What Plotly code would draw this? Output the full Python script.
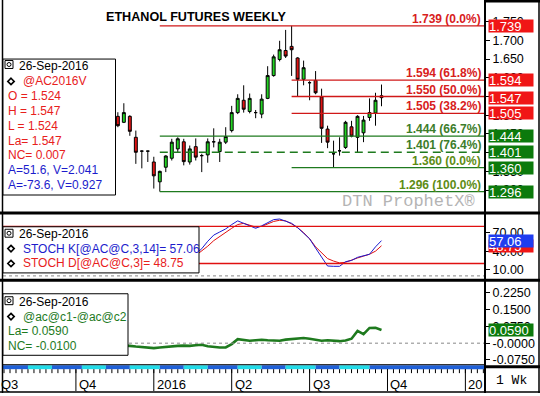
import plotly.graph_objects as go
import pandas as pd

W, H = 540, 396

# ---------------- data ----------------
dates = pd.date_range(end="2016-09-26", periods=45, freq="7D")
opens = [1.497, 1.481, 1.497, 1.441, 1.404, 1.404, 1.375, 1.322, 1.361, 1.385,
         1.410, 1.429, 1.375, 1.416, 1.392, 1.394, 1.429, 1.403, 1.428, 1.459,
         1.507, 1.540, 1.510, 1.507, 1.503, 1.545, 1.606, 1.649, 1.673, 1.684,
         1.653, 1.596, 1.587, 1.593, 1.549, 1.463, 1.397, 1.405, 1.414, 1.469,
         1.441, 1.453, 1.494, 1.506, 1.552]
highs = [1.508, 1.532, 1.500, 1.459, 1.406, 1.405, 1.389, 1.352, 1.393, 1.437,
         1.441, 1.437, 1.419, 1.438, 1.397, 1.438, 1.465, 1.437, 1.468, 1.525,
         1.556, 1.580, 1.558, 1.514, 1.556, 1.631, 1.662, 1.699, 1.728, 1.739,
         1.655, 1.646, 1.591, 1.618, 1.571, 1.472, 1.432, 1.441, 1.485, 1.485,
         1.500, 1.498, 1.545, 1.560, 1.582]
lows = [1.468, 1.479, 1.445, 1.370, 1.358, 1.375, 1.304, 1.296, 1.348, 1.379,
        1.401, 1.366, 1.368, 1.379, 1.348, 1.373, 1.414, 1.375, 1.423, 1.454,
        1.503, 1.507, 1.505, 1.492, 1.492, 1.543, 1.603, 1.644, 1.653, 1.605,
        1.551, 1.580, 1.540, 1.556, 1.426, 1.412, 1.360, 1.392, 1.410, 1.441,
        1.401, 1.428, 1.485, 1.472, 1.524]
closes = [1.472, 1.507, 1.457, 1.401, 1.404, 1.404, 1.338, 1.350, 1.391, 1.428,
          1.437, 1.376, 1.410, 1.388, 1.392, 1.429, 1.429, 1.428, 1.443, 1.507,
          1.545, 1.516, 1.545, 1.507, 1.543, 1.606, 1.656, 1.675, 1.658, 1.675,
          1.596, 1.627, 1.587, 1.560, 1.465, 1.428, 1.397, 1.405, 1.481, 1.444,
          1.497, 1.487, 1.507, 1.540, 1.547]

stoch_dates = dates[13:]
stoch_k = [35, 44, 56, 66, 71, 76, 83, 89, 85, 81, 77, 81, 86, 91, 92, 88,
           85, 78, 69, 60, 45, 30, 16, 15.5, 15.5, 23, 25, 30, 33, 35, 47, 57.06]
stoch_d = [33, 40, 48, 57, 64, 71, 77, 83, 85, 82, 79, 80, 84, 88, 90, 89,
           84, 78, 70, 60, 47, 37, 28, 24, 21, 22, 26, 29, 32, 35, 40, 48.75]

spread = [-0.010, -0.010, -0.012, -0.015, -0.018, -0.021, -0.022, -0.019, -0.016, -0.014,
          -0.012, -0.011, -0.012, -0.009, -0.007, -0.014, -0.017, -0.019, -0.019, -0.004,
          0.018, 0.013, 0.011, 0.013, 0.015, 0.013, 0.012, 0.011, 0.016, 0.019,
          0.021, 0.023, 0.020, 0.015, 0.011, 0.013, 0.010, 0.009, 0.012, 0.020,
          0.055, 0.040, 0.068, 0.069, 0.059]

fib_levels = [1.739, 1.594, 1.550, 1.505, 1.444, 1.401, 1.360, 1.296]
fib_labels = ["1.739 (0.0%)", "1.594 (61.8%)", "1.550 (50.0%)", "1.505 (38.2%)",
              "1.444 (66.7%)", "1.401 (76.4%)", "1.360 (0.0%)", "1.296 (100.0%)"]
fib_start = [7, 29, 29, 29, 7, 7, 29, 7]          # index of anchoring bar
fib_is_red = [True, True, True, True, False, False, False, False]

price_boxes = [1.739, 1.594, 1.547, 1.505, 1.444, 1.401, 1.360, 1.296]
price_box_red = [True, True, True, True, False, False, False, False]

price_ticks = [1.30, 1.35, 1.40, 1.45, 1.50, 1.55, 1.60, 1.65, 1.70, 1.75]
stoch_ticks = [10, 40, 70]
spread_ticks = [-0.075, 0.0, 0.075, 0.15, 0.225]
spread_ticktext = ["-0.0750", "-0.0000", "0.0750", "0.1500", "0.2250"]

quarter_dates = pd.to_datetime(["2015-07-06", "2015-10-05", "2016-01-04", "2016-04-04",
                                "2016-07-04", "2016-10-03", "2017-01-02"])
quarter_labels = ["Q3", "Q4", "2016", "Q2", "Q3", "Q4", "20"]

# ---------------- geometry helpers ----------------
FONT = "Liberation Sans, Arial, sans-serif"
RED = "#e8201c"
BLUE = "#1c1ccc"
GREEN = "#1e7a1e"

px_per_day = 0.856
anchor_px = 381.5


def date_px(d):
    return anchor_px + (pd.Timestamp(d) - dates[-1]).total_seconds() / 86400 * px_per_day


def date_at(px):
    return dates[-1] + pd.Timedelta(days=(px - anchor_px) / px_per_day)


x_left, x_right = date_at(3), date_at(485)


def PX(x):
    return x / W


def PY(y):
    return 1 - y / H


shapes = []
annotations = []


def hline_px(x0, x1, y, color="black", width=1, dash="solid", layer="above"):
    shapes.append(dict(type="line", xref="paper", yref="paper", x0=PX(x0), x1=PX(x1),
                       y0=PY(y), y1=PY(y), line=dict(color=color, width=width, dash=dash),
                       layer=layer))


def vline_px(x, y0, y1, color="black", width=1):
    shapes.append(dict(type="line", xref="paper", yref="paper", x0=PX(x), x1=PX(x),
                       y0=PY(y0), y1=PY(y1), line=dict(color=color, width=width), layer="above"))


def rect_px(x0, y0, x1, y1, fill="white", line="black", lw=1):
    shapes.append(dict(type="rect", xref="paper", yref="paper", x0=PX(x0), x1=PX(x1),
                       y0=PY(y1), y1=PY(y0), fillcolor=fill,
                       line=dict(color=line, width=lw), layer="above"))


def text_px(x, y, t, color="black", size=12, xanchor="left", family=FONT):
    annotations.append(dict(xref="paper", yref="paper", x=PX(x), y=PY(y), text=t,
                            showarrow=False, xanchor=xanchor, yanchor="middle",
                            font=dict(family=family, size=size, color=color),
                            borderpad=0))


def diamond(cx, cy, r=3.2):
    pts = [(cx, cy - r), (cx + r, cy), (cx, cy + r), (cx - r, cy)]
    path = "M " + " L ".join(f"{PX(a)},{PY(b)}" for a, b in pts) + " Z"
    shapes.append(dict(type="path", xref="paper", yref="paper", path=path,
                       line=dict(color="black", width=1.6), fillcolor="white", layer="above"))


def icon(x, y):
    rect_px(x, y, x + 8, y + 8, fill="white", line="black", lw=1)
    shapes.append(dict(type="circle", xref="paper", yref="paper", x0=PX(x + 2), x1=PX(x + 6),
                       y0=PY(y + 6), y1=PY(y + 2), line=dict(color="black", width=1), layer="above"))


# ---------------- traces ----------------
fig = go.Figure()
fig.add_trace(go.Candlestick(
    x=dates, open=opens, high=highs, low=lows, close=closes,
    increasing=dict(line=dict(color="black", width=1), fillcolor="#22d422"),
    decreasing=dict(line=dict(color="black", width=1), fillcolor="#e01414"),
    whiskerwidth=0, xaxis="x", yaxis="y", hoverinfo="skip"))

fig.add_trace(go.Scatter(x=stoch_dates, y=stoch_d, mode="lines",
                         line=dict(color="#e01010", width=1), xaxis="x", yaxis="y2"))
fig.add_trace(go.Scatter(x=stoch_dates, y=stoch_k, mode="lines",
                         line=dict(color="#1a1ad0", width=1), xaxis="x", yaxis="y2"))
fig.add_trace(go.Scatter(x=dates, y=spread, mode="lines",
                         line=dict(color="#1e7a1e", width=2.6), xaxis="x", yaxis="y3"))

# ---------------- fib lines ----------------
for lvl, lab, si, red in zip(fib_levels, fib_labels, fib_start, fib_is_red):
    col = "#d01818" if red else "#1e7a1e"
    shapes.append(dict(type="line", xref="x", yref="y", x0=dates[si], x1=x_right,
                       y0=lvl, y1=lvl, layer="above",
                       line=dict(color=col, width=1.3,
                                 dash="8px,5px" if lab.startswith("1.401") else "solid")))
    tcol = "#d8201c" if red else ("#3c7d2a" if lvl > 1.38 else "#5d8c14")
    annotations.append(dict(xref="paper", yref="y", x=PX(483), y=lvl, yshift=7,
                            text=f"<b>{lab}</b>", showarrow=False, xanchor="right",
                            yanchor="middle", font=dict(family=FONT, size=12, color=tcol)))

# stoch bands and zero lines
for v in (80, 20):
    shapes.append(dict(type="line", xref="paper", yref="y2", x0=PX(3), x1=PX(485), y0=v, y1=v,
                       line=dict(color="#e01010", width=1.3), layer="above"))
shapes.append(dict(type="line", xref="paper", yref="y2", x0=PX(3), x1=PX(485), y0=0, y1=0,
                   line=dict(color="#888888", width=1, dash="3px,3px"), layer="above"))
shapes.append(dict(type="line", xref="paper", yref="y3", x0=PX(3), x1=PX(485), y0=0, y1=0,
                   line=dict(color="#888888", width=1, dash="3px,3px"), layer="above"))

# ---------------- month band + time ticks ----------------
bounds = []
for m in pd.date_range("2015-08-01", "2016-09-01", freq="MS"):
    s = pd.Timestamp(m.year, m.month, 6)
    bounds.append(s + pd.Timedelta(days=(0 - s.weekday()) % 7))
edges = [x_left] + bounds + [x_right]
for k in range(len(edges) - 1):
    col = "#1f60d8" if k % 2 == 0 else "#22dbe8"
    shapes.append(dict(type="rect", xref="x", yref="paper", x0=edges[k], x1=edges[k + 1],
                       y0=PY(372), y1=PY(368), fillcolor=col, line=dict(width=0), layer="above"))

mondays = pd.date_range(x_left.normalize(), x_right, freq="W-MON")
for d in mondays:
    shapes.append(dict(type="line", xref="x", yref="paper", x0=d, x1=d, y0=PY(372), y1=PY(376),
                       line=dict(color="black", width=1), layer="above"))
for d, lab in zip(quarter_dates, quarter_labels):
    xp = date_px(d)
    if 3 <= xp <= 485:
        shapes.append(dict(type="line", xref="x", yref="paper", x0=d, x1=d, y0=PY(372),
                           y1=PY(394), line=dict(color="black", width=1), layer="above"))
    text_px(xp + 2, 387, lab, size=13)

# ---------------- frame / separators ----------------
hline_px(0, 540, 214.5, width=3)
hline_px(0, 540, 282.5, width=3)
hline_px(3, 485, 367.5, width=1)
hline_px(485, 540, 369.5, width=3)
vline_px(485, 0, 396, width=2)
vline_px(2.5, 0, 396, width=1.5)
hline_px(485, 540, 1, width=3)
hline_px(0, 540, 395, width=1.5)
vline_px(539, 0, 396, width=1.5)

# ---------------- title / watermark ----------------
text_px(196, 17, "<b>ETHANOL FUTURES WEEKLY</b>", size=12.6, xanchor="center")
text_px(408, 203, "DTN ProphetX®", color="#b4b4b4", size=17, xanchor="center",
        family="Liberation Mono, Courier New, monospace")
text_px(511, 383, "1 Wk", size=13, xanchor="center", family="Liberation Mono, Courier New, monospace")

# ---------------- info boxes ----------------
rect_px(3, 59.5, 115.5, 196.5)
icon(5, 61)
text_px(18, 67, "26-Sep-2016")
diamond(11, 82)
text_px(22, 82, "@AC2016V", RED)
main_lines = [("O = 1.524", RED), ("H = 1.547", RED), ("L = 1.524", RED), ("La= 1.547", RED),
              ("NC= 0.007", RED), ("A=51.6, V=2.041", BLUE), ("A=-73.6, V=0.927", BLUE)]
for k, (t, c) in enumerate(main_lines):
    text_px(7, 97 + k * 14.9, t, c)

rect_px(3, 228.5, 199, 275)
icon(5, 231)
text_px(18, 235.5, "26-Sep-2016")
diamond(11, 250.5)
text_px(22, 250.5, "STOCH K[@AC@C,3,14]= 57.06", BLUE)
diamond(11, 265.5)
text_px(22, 265.5, "STOCH D[@AC@C,3]= 48.75", RED)

rect_px(3, 296, 128, 358)
icon(5, 299)
text_px(18, 304, "26-Sep-2016")
diamond(11, 319)
text_px(22, 319, "@ac@c1-@ac@c2", GREEN)
text_px(7, 333.5, "La= 0.0590", GREEN)
text_px(7, 348.5, "NC= -0.0100", GREEN)

# ---------------- value boxes on the right axis ----------------
def value_box(yref, v, t, bg):
    annotations.append(dict(xref="paper", yref=yref, x=PX(487.5), y=v, text=t, showarrow=False,
                            xanchor="left", yanchor="middle", bgcolor=bg, width=44, height=12,
                            align="left", borderpad=0,
                            font=dict(family=FONT, size=13, color="white")))


for v, red in zip(price_boxes, price_box_red):
    value_box("y", v, f"{v:.3f}", "#f01616" if red else "#0c7a0c")
value_box("y2", stoch_d[-1], f"{stoch_d[-1]:.2f}", "#f01616")
value_box("y2", stoch_k[-1], f"{stoch_k[-1]:.2f}", "#1f3cf0")
value_box("y3", spread[-1], f"{spread[-1]:.4f}", "#0c7a0c")

# ---------------- layout ----------------
axfont = dict(family=FONT, size=12.5, color="black")
common_y = dict(side="right", anchor="x", showgrid=False, zeroline=False, ticks="outside",
                ticklen=4, tickcolor="black", tickfont=axfont, showline=False, fixedrange=True)
p_lo = 1.739 - (213 - 26) / 377
p_hi = 1.739 + (26 - 3) / 377
fig.update_layout(
    width=W, height=H, margin=dict(l=0, r=0, t=0, b=0),
    paper_bgcolor="white", plot_bgcolor="white", showlegend=False,
    xaxis=dict(domain=[PX(3), PX(485)], range=[x_left, x_right], type="date", anchor="y3",
               showgrid=False, showticklabels=False, ticks="", zeroline=False, showline=False,
               rangeslider=dict(visible=False), fixedrange=True),
    yaxis=dict(domain=[PY(213), PY(3)], range=[p_lo, p_hi], tickvals=price_ticks,
               ticktext=[f"{v:.3f}" for v in price_ticks], **common_y),
    yaxis2=dict(domain=[PY(281), PY(216)], range=[(278 - 281) / 0.623, (278 - 216) / 0.623],
                tickvals=stoch_ticks, ticktext=[f"{v:.2f}" for v in stoch_ticks], **common_y),
    yaxis3=dict(domain=[PY(367), PY(284)], range=[(345.8 - 367) / 225.7, (345.8 - 284) / 225.7],
                tickvals=spread_ticks, ticktext=spread_ticktext, **common_y),
    shapes=shapes, annotations=annotations,
)

fig.write_html("out.html", config={"displayModeBar": False, "staticPlot": True},
               post_script="document.body.style.margin='0';document.body.style.padding='0';"
                           "document.body.style.overflow='hidden';")
